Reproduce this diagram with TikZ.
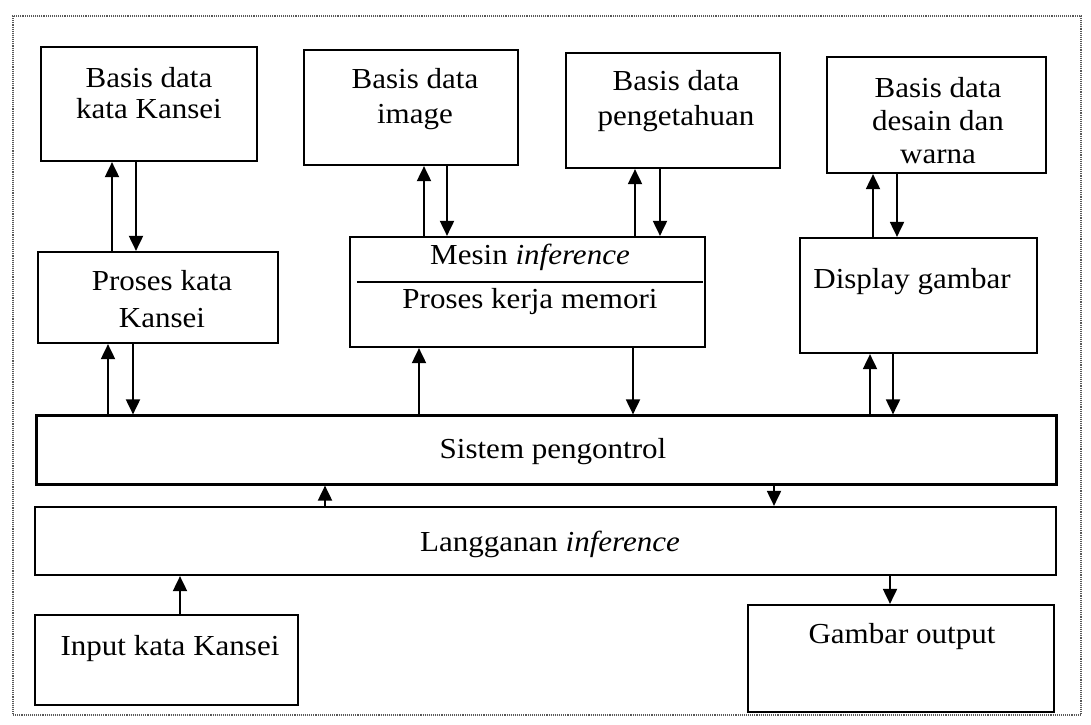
\documentclass[tikz,border=0pt]{standalone}
\usepackage{fontspec}
\setmainfont{Liberation Serif}[FakeStretch=1.07]
\usetikzlibrary{arrows.meta}
\begin{document}
\begin{tikzpicture}[x=1pt,y=-1pt,
  box/.style={draw, line width=2.2pt, rectangle, inner sep=0pt},
  txt/.style={font=\fontsize{29}{33}\selectfont, align=center, inner sep=0pt, anchor=base},
  arr/.style={line width=1.9pt, -{Triangle[width=14pt,length=15pt]}},
  frame/.style={draw=black!65, line width=1.1pt, densely dotted, inner sep=0pt}]
\useasboundingbox (0,0) rectangle (1091,724);
% outer dotted frame
\node[frame, minimum width=1068pt, minimum height=699pt] (frame) at (547,365.5) {};
% boxes
\node[box, minimum width=216pt, minimum height=114pt] (bdk) at (149,104) {};
\node[box, minimum width=214pt, minimum height=115pt] (bdi) at (411,107.5) {};
\node[box, minimum width=214pt, minimum height=115pt] (bdp) at (673,110.5) {};
\node[box, minimum width=219pt, minimum height=116pt] (bdd) at (936.5,115) {};
\node[box, minimum width=240pt, minimum height=91pt] (proses) at (158,297.5) {};
\node[box, minimum width=355pt, minimum height=110pt] (mesin) at (527.5,292) {};
\node[box, minimum width=237pt, minimum height=115pt] (display) at (918.5,295.5) {};
\node[box, minimum width=1020pt, minimum height=69pt] (sistem) at (546.5,450) {};
\node[box, minimum width=1021pt, minimum height=68pt] (lang) at (545.5,541) {};
\node[box, minimum width=263pt, minimum height=90pt] (input) at (166.5,660) {};
\node[box, minimum width=306pt, minimum height=107pt] (output) at (901,658.5) {};
% separator inside Mesin box
\coordinate (sepy) at (0,282);
\draw[line width=1.8pt] ([xshift=8pt]mesin.west |- sepy) -- ([xshift=-3pt]mesin.east |- sepy);
% texts (multi-line nodes: base = baseline of last line)
\node[txt, font=\fontsize{29}{31}\selectfont] (bdkT) at (149,118) {Basis data\\kata Kansei};
\node[txt, font=\fontsize{29}{35}\selectfont] (bdiT) at (415,123) {Basis data\\image};
\node[txt, font=\fontsize{29}{35}\selectfont] (bdpT) at (676,125) {Basis data\\pengetahuan};
\node[txt] (bddT) at (938,163) {Basis data\\desain dan\\warna};
\node[txt, font=\fontsize{29}{37}\selectfont] (prosesT) at (162,327) {Proses kata\\Kansei};
\node[txt] (mesinT1) at (530,264) {Mesin \textit{inference}};
\node[txt] (mesinT2) at (530,308) {Proses kerja memori};
\node[txt] (displayT) at (912,288) {Display gambar};
\node[txt] (sistemT) at (553,458) {Sistem pengontrol};
\node[txt] (langT) at (550,551) {Langganan \textit{inference}};
\node[txt] (inputT) at (170,655) {Input kata Kansei};
\node[txt] (outputT) at (902,643) {Gambar output};
% arrow x positions
\coordinate (a1) at (112,0);  \coordinate (a2) at (136,0);
\coordinate (a3) at (424,0);  \coordinate (a4) at (447,0);
\coordinate (a5) at (635,0);  \coordinate (a6) at (660,0);
\coordinate (a7) at (873,0);  \coordinate (a8) at (897,0);
\coordinate (b1) at (108,0);  \coordinate (b2) at (133,0);
\coordinate (b3) at (419,0);  \coordinate (b4) at (633,0);
\coordinate (b5) at (870,0);  \coordinate (b6) at (893,0);
\coordinate (c1) at (325,0);  \coordinate (c2) at (774,0);
\coordinate (d1) at (180,0);  \coordinate (d2) at (890,0);
% connectors
\draw[arr] (proses.north -| a1) -- (bdk.south -| a1);
\draw[arr] (bdk.south -| a2) -- (proses.north -| a2);
\draw[arr] (mesin.north -| a3) -- (bdi.south -| a3);
\draw[arr] (bdi.south -| a4) -- (mesin.north -| a4);
\draw[arr] (mesin.north -| a5) -- (bdp.south -| a5);
\draw[arr] (bdp.south -| a6) -- (mesin.north -| a6);
\draw[arr] (display.north -| a7) -- (bdd.south -| a7);
\draw[arr] (bdd.south -| a8) -- (display.north -| a8);
\draw[arr] (sistem.north -| b1) -- (proses.south -| b1);
\draw[arr] (proses.south -| b2) -- (sistem.north -| b2);
\draw[arr] (sistem.north -| b3) -- (mesin.south -| b3);
\draw[arr] (mesin.south -| b4) -- (sistem.north -| b4);
\draw[arr] (sistem.north -| b5) -- (display.south -| b5);
\draw[arr] (display.south -| b6) -- (sistem.north -| b6);
\draw[arr] (lang.north -| c1) -- (sistem.south -| c1);
\draw[arr] (sistem.south -| c2) -- (lang.north -| c2);
\draw[arr] (input.north -| d1) -- (lang.south -| d1);
\draw[arr] (lang.south -| d2) -- (output.north -| d2);
\end{tikzpicture}
\end{document}
